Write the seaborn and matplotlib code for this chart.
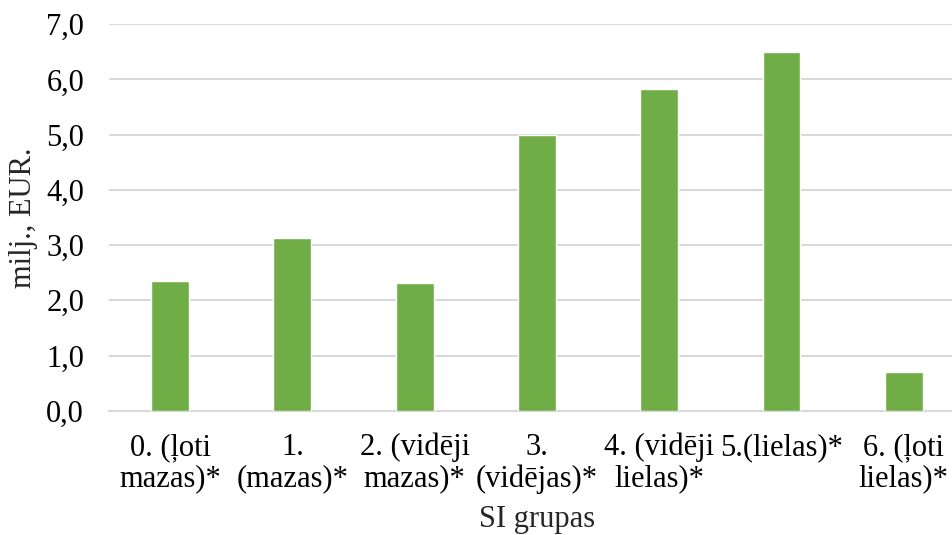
import numpy as np
import pandas as pd
import matplotlib
matplotlib.use("Agg")
import matplotlib.pyplot as plt
import seaborn as sns
from matplotlib.ticker import FuncFormatter

# dati
grupas = ["0. (ļoti\nmazas)*", "1.\n(mazas)*", "2. (vidēji\nmazas)*", "3.\n(vidējas)*",
          "4. (vidēji\nlielas)*", "5.(lielas)*", "6. (ļoti\nlielas)*"]
vertibas = [2.35, 3.12, 2.31, 4.99, 5.82, 6.49, 0.70]

y_ticks = [0, 1, 2, 3, 4, 5, 6, 7]

sns.set_style("white")
plt.rcParams["font.family"] = ["Liberation Serif", "DejaVu Serif"]

df = pd.DataFrame({"grupa": grupas, "vertiba": vertibas})

fig = plt.figure(figsize=(9.52, 5.35), dpi=100)
# labā mala iziet ārpus attēla, kā oriģinālā (apgriezts)
ax = fig.add_axes([0.1145, 0.2323, 0.899, 0.7223])

sns.barplot(data=df, x="grupa", y="vertiba", color="#70AD47", width=0.31,
            saturation=1, ax=ax, zorder=3)

ax.set_ylim(0, 7)
ax.set_xlim(-0.5, 6.5)
ax.set_yticks(y_ticks)
ax.yaxis.set_major_formatter(FuncFormatter(lambda v, p: f"{v:.1f}".replace(".", ",")))
ax.grid(axis="y", color="#D9D9D9", linewidth=1.5, zorder=0)
ax.grid(axis="x", visible=False)

for s in ["left", "right", "top"]:
    ax.spines[s].set_visible(False)
ax.spines["bottom"].set_color("#D9D9D9")
ax.spines["bottom"].set_linewidth(1.5)

ax.tick_params(axis="both", length=0, labelsize=22, colors="black")
ax.tick_params(axis="x", pad=16)
ax.tick_params(axis="y", pad=18)
for lbl in ax.get_xticklabels():
    lbl.set_verticalalignment("top")
    lbl.set_linespacing(1.1)

ax.set_xlabel("SI grupas", fontsize=22, labelpad=8)
ax.set_ylabel("milj., EUR.", fontsize=22, labelpad=6)

fig.savefig("out.png", dpi=100)
